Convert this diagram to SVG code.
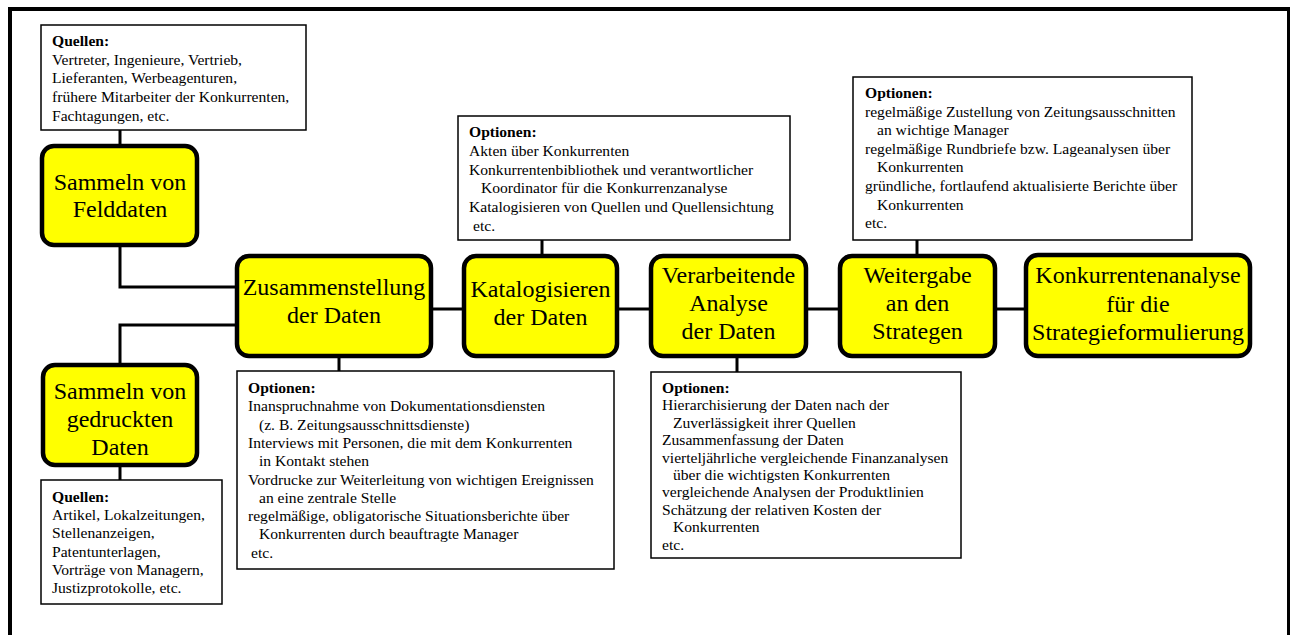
<svg xmlns="http://www.w3.org/2000/svg" width="1290" height="635" viewBox="0 0 1290 635">
<style>
.node rect{fill:#ffff00;stroke:#000;stroke-width:4.5}
.node text{font-family:"Liberation Serif","Times New Roman",serif;font-size:24px;fill:#000;text-anchor:middle}
.box rect{fill:#fff;stroke:#000;stroke-width:1.5}
.box text{font-family:"Liberation Serif","Times New Roman",serif;font-size:15.6px;fill:#000}
.box .h{font-weight:bold}
.conn line,.conn path{stroke:#000;stroke-width:3;fill:none}
</style>
<rect width="1290" height="635" fill="#fff"/>
<g id="frame" stroke="#000" fill="none">
<line x1="10" y1="9" x2="10" y2="635" stroke-width="4"/>
<line x1="8" y1="9" x2="1290" y2="9" stroke-width="4"/>
<line x1="1288.5" y1="9" x2="1288.5" y2="635" stroke-width="3"/>
</g>
<g id="connectors" class="conn">
<line x1="120" y1="130" x2="120" y2="146"/>
<path d="M120 247 V287 H237"/>
<path d="M237 325 H120 V365"/>
<line x1="120" y1="467" x2="120" y2="480"/>
<line x1="433" y1="309" x2="464" y2="309"/>
<line x1="619" y1="309" x2="651" y2="309"/>
<line x1="808" y1="309" x2="840" y2="309"/>
<line x1="997" y1="309" x2="1026" y2="309"/>
<line x1="339" y1="358" x2="339" y2="371"/>
<line x1="542" y1="240" x2="542" y2="256"/>
<line x1="737" y1="358" x2="737" y2="372"/>
<line x1="917" y1="240" x2="917" y2="256"/>
</g>
<g id="quellen1" class="box">
<rect x="41" y="25" width="265" height="105"/>
<text x="52" y="45.7" class="h">Quellen:</text>
<text x="52" y="64.5">Vertreter, Ingenieure, Vertrieb,</text>
<text x="52" y="83.2">Lieferanten, Werbeagenturen,</text>
<text x="52" y="101.9">frühere Mitarbeiter der Konkurrenten,</text>
<text x="52" y="120.6">Fachtagungen, etc.</text>
</g>
<g id="quellen2" class="box">
<rect x="41" y="480" width="181" height="124"/>
<text x="52" y="501.7" class="h">Quellen:</text>
<text x="52" y="520">Artikel, Lokalzeitungen,</text>
<text x="52" y="538.3">Stellenanzeigen,</text>
<text x="52" y="556.6">Patentunterlagen,</text>
<text x="52" y="574.9">Vorträge von Managern,</text>
<text x="52" y="593.2">Justizprotokolle, etc.</text>
</g>
<g id="optionen-zusammenstellung" class="box">
<rect x="237" y="371" width="377" height="198"/>
<text x="248" y="393" class="h">Optionen:</text>
<text x="248" y="411.3">Inanspruchnahme von Dokumentationsdiensten</text>
<text x="259" y="429.6">(z. B. Zeitungsausschnittsdienste)</text>
<text x="248" y="447.9">Interviews mit Personen, die mit dem Konkurrenten</text>
<text x="259" y="466.2">in Kontakt stehen</text>
<text x="248" y="484.5">Vordrucke zur Weiterleitung von wichtigen Ereignissen</text>
<text x="259" y="502.8">an eine zentrale Stelle</text>
<text x="248" y="521.1">regelmäßige, obligatorische Situationsberichte über</text>
<text x="259" y="539.4">Konkurrenten durch beauftragte Manager</text>
<text x="251" y="557.7">etc.</text>
</g>
<g id="optionen-katalogisieren" class="box">
<rect x="458" y="116" width="332" height="124"/>
<text x="469" y="137" class="h">Optionen:</text>
<text x="469" y="155.8">Akten über Konkurrenten</text>
<text x="469" y="174.6">Konkurrentenbibliothek und verantwortlicher</text>
<text x="481" y="193.4">Koordinator für die Konkurrenzanalyse</text>
<text x="469" y="212.2">Katalogisieren von Quellen und Quellensichtung</text>
<text x="473" y="231">etc.</text>
</g>
<g id="optionen-verarbeitende" class="box">
<rect x="651" y="372" width="310" height="186"/>
<text x="662" y="393" class="h">Optionen:</text>
<text x="662" y="410.4">Hierarchisierung der Daten nach der</text>
<text x="673" y="427.8">Zuverlässigkeit ihrer Quellen</text>
<text x="662" y="445.2">Zusammenfassung der Daten</text>
<text x="662" y="462.6">vierteljährliche vergleichende Finanzanalysen</text>
<text x="673" y="480">über die wichtigsten Konkurrenten</text>
<text x="662" y="497.4">vergleichende Analysen der Produktlinien</text>
<text x="662" y="514.8">Schätzung der relativen Kosten der</text>
<text x="673" y="532.2">Konkurrenten</text>
<text x="662" y="549.6">etc.</text>
</g>
<g id="optionen-weitergabe" class="box">
<rect x="853" y="77" width="339" height="163"/>
<text x="865" y="98" class="h">Optionen:</text>
<text x="865" y="116.6">regelmäßige Zustellung von Zeitungsausschnitten</text>
<text x="877" y="135.2">an wichtige Manager</text>
<text x="865" y="153.8">regelmäßige Rundbriefe bzw. Lageanalysen über</text>
<text x="877" y="172.4">Konkurrenten</text>
<text x="865" y="191">gründliche, fortlaufend aktualisierte Berichte über</text>
<text x="877" y="209.6">Konkurrenten</text>
<text x="865" y="228.2">etc.</text>
</g>
<g id="node-felddaten" class="node">
<rect x="42" y="146" width="155" height="99" rx="12"/>
<text x="120" y="190">Sammeln von</text>
<text x="120" y="217">Felddaten</text>
</g>
<g id="node-gedruckt" class="node">
<rect x="43" y="365" width="154" height="100" rx="12"/>
<text x="120" y="399">Sammeln von</text>
<text x="120" y="427">gedruckten</text>
<text x="120" y="455">Daten</text>
</g>
<g id="node-zusammenstellung" class="node">
<rect x="237" y="256" width="194" height="100" rx="12"/>
<text x="334" y="295">Zusammenstellung</text>
<text x="334" y="323">der Daten</text>
</g>
<g id="node-katalogisieren" class="node">
<rect x="464" y="256" width="153" height="100" rx="12"/>
<text x="540.5" y="297">Katalogisieren</text>
<text x="540.5" y="325">der Daten</text>
</g>
<g id="node-verarbeitende" class="node">
<rect x="651" y="256" width="155" height="100" rx="12"/>
<text x="728.5" y="283">Verarbeitende</text>
<text x="728.5" y="311">Analyse</text>
<text x="728.5" y="339">der Daten</text>
</g>
<g id="node-weitergabe" class="node">
<rect x="840" y="256" width="155" height="100" rx="12"/>
<text x="917.5" y="283">Weitergabe</text>
<text x="917.5" y="311">an den</text>
<text x="917.5" y="339">Strategen</text>
</g>
<g id="node-konkurrentenanalyse" class="node">
<rect x="1026" y="255" width="224" height="101" rx="12"/>
<text x="1138" y="283">Konkurrentenanalyse</text>
<text x="1138" y="312">für die</text>
<text x="1138" y="340">Strategieformulierung</text>
</g>
</svg>
